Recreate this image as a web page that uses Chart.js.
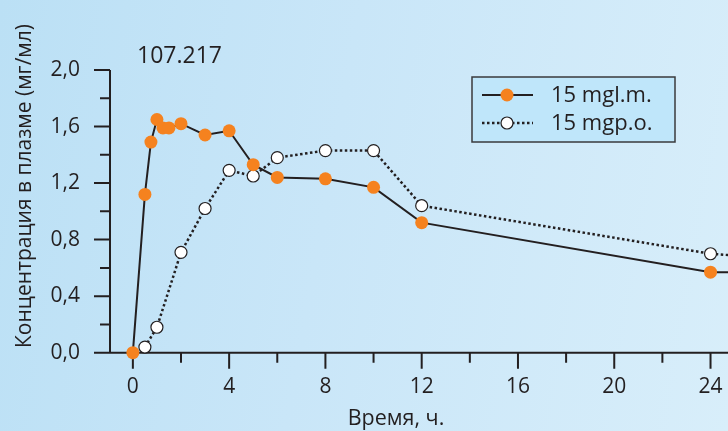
<!DOCTYPE html>
<html>
<head>
<meta charset="utf-8">
<script src="https://cdn.jsdelivr.net/npm/chart.js@4.4.1/dist/chart.umd.min.js"></script>
<style>
  html, body {
    margin: 0;
    padding: 0;
    width: 728px;
    height: 431px;
    overflow: hidden;
    background: linear-gradient(100deg, #bbe0f5 0%, #c9e6f8 45%, #d8eefa 100%);
  }
  #wrap {
    position: relative;
    width: 814px;
    height: 431px;
  }
</style>
</head>
<body>
<div id="wrap"><canvas id="pkChart"></canvas></div>
<script>
  // time points (h) and plasma concentration (mg/ml)
  const timeIm = [0, 0.5, 0.75, 1, 1.25, 1.5, 2, 3, 4, 5, 6, 8, 10, 12, 24, 28];
  const concIm = [0, 1.12, 1.49, 1.65, 1.59, 1.59, 1.62, 1.54, 1.57, 1.33, 1.24, 1.23, 1.17, 0.92, 0.57, 0.57];
  const timePo = [0.5, 1, 2, 3, 4, 5, 6, 8, 10, 12, 24, 28];
  const concPo = [0.04, 0.18, 0.71, 1.02, 1.29, 1.25, 1.38, 1.43, 1.43, 1.04, 0.70, 0.65];

  const seriesLabels = ['15 mgl.m.', '15 mgp.o.'];
  const xTicks = [0, 2, 4, 6, 8, 10, 12, 14, 16, 18, 20, 22, 24, 26, 28];
  const yTicks = [0, 0.2, 0.4, 0.6, 0.8, 1.0, 1.2, 1.4, 1.6, 1.8, 2.0];
  const chartNote = '107.217';
  const xTitle = 'Время, ч.';
  const yTitle = 'Концентрация в плазме (мг/мл)';

  const ink = '#231f20';
  const orange = '#f5821f';
  const fontFamily = '"Open Sans", "Noto Sans", sans-serif';
  const yAxisAt = -0.95;

  const isMajorY = v => Math.abs(v / 0.4 - Math.round(v / 0.4)) < 1e-6;
  const isMajorX = v => v % 4 === 0;

  // axis lines and tick marks, placed with the chart's scales
  const axesPlugin = {
    id: 'axesPlugin',
    beforeDatasetsDraw(chart) {
      const { ctx, scales: { x, y } } = chart;
      const x0 = x.getPixelForValue(yAxisAt);
      const y0 = y.getPixelForValue(0);
      ctx.save();
      ctx.strokeStyle = ink;
      ctx.lineWidth = 2;
      ctx.beginPath();
      ctx.moveTo(x0 - 16, y0);
      ctx.lineTo(chart.width, y0);
      ctx.moveTo(x0, y0);
      ctx.lineTo(x0, y.getPixelForValue(2));
      y.ticks.forEach(t => {
        const py = y.getPixelForValue(t.value);
        const len = isMajorY(t.value) ? 16 : 10;
        ctx.moveTo(x0 - len, py);
        ctx.lineTo(x0, py);
      });
      x.ticks.forEach(t => {
        const px = x.getPixelForValue(t.value);
        const len = isMajorX(t.value) ? 16 : 10;
        ctx.moveTo(px, y0);
        ctx.lineTo(px, y0 + len);
      });
      ctx.stroke();
      ctx.restore();
    }
  };

  // titles, note and the boxed legend
  const textPlugin = {
    id: 'textPlugin',
    afterDraw(chart) {
      const { ctx } = chart;
      ctx.save();
      ctx.fillStyle = ink;
      ctx.textBaseline = 'alphabetic';

      ctx.font = '23px ' + fontFamily;
      ctx.textAlign = 'left';
      ctx.fillText(chartNote, 137, 63);

      ctx.font = '21.5px ' + fontFamily;
      ctx.textAlign = 'center';
      ctx.fillText(xTitle, 396, 425);

      ctx.font = '21px ' + fontFamily;
      ctx.save();
      ctx.translate(31, 186);
      ctx.rotate(-Math.PI / 2);
      ctx.fillText(yTitle, 0, 0);
      ctx.restore();

      // legend box
      ctx.fillStyle = '#bfe6fa';
      ctx.fillRect(472, 77, 203, 65);
      ctx.strokeStyle = '#3a3a3c';
      ctx.lineWidth = 1.5;
      ctx.strokeRect(472, 77, 203, 65);

      const rows = [95, 123];
      ctx.strokeStyle = ink;
      ctx.lineWidth = 2;
      ctx.beginPath();
      ctx.moveTo(482, rows[0]);
      ctx.lineTo(533, rows[0]);
      ctx.stroke();
      ctx.setLineDash([2.5, 2.5]);
      ctx.lineWidth = 2.5;
      ctx.beginPath();
      ctx.moveTo(482, rows[1]);
      ctx.lineTo(533, rows[1]);
      ctx.stroke();
      ctx.setLineDash([]);

      ctx.fillStyle = orange;
      ctx.beginPath();
      ctx.arc(507, rows[0], 6.5, 0, Math.PI * 2);
      ctx.fill();
      ctx.fillStyle = '#ffffff';
      ctx.lineWidth = 1.2;
      ctx.beginPath();
      ctx.arc(507, rows[1], 6, 0, Math.PI * 2);
      ctx.fill();
      ctx.stroke();

      ctx.fillStyle = ink;
      ctx.font = '22px ' + fontFamily;
      ctx.textAlign = 'left';
      ctx.textBaseline = 'middle';
      ctx.fillText(seriesLabels[0], 551, rows[0] + 1);
      ctx.fillText(seriesLabels[1], 551, rows[1] + 1);
      ctx.restore();
    }
  };

  const ctx = document.getElementById('pkChart');

  new Chart(ctx, {
    type: 'line',
    data: {
      datasets: [{
        label: seriesLabels[0],
        data: timeIm.map((t, i) => ({ x: t, y: concIm[i] })),
        borderColor: ink,
        borderWidth: 2,
        pointRadius: 6.5,
        pointBackgroundColor: orange,
        pointBorderColor: orange,
        pointBorderWidth: 0,
        tension: 0,
        clip: false,
        order: 0
      }, {
        label: seriesLabels[1],
        data: timePo.map((t, i) => ({ x: t, y: concPo[i] })),
        borderColor: ink,
        borderWidth: 2.5,
        borderDash: [2.5, 2.5],
        pointRadius: 6,
        pointBackgroundColor: '#ffffff',
        pointBorderColor: ink,
        pointBorderWidth: 1.2,
        tension: 0,
        clip: false,
        order: 1
      }]
    },
    options: {
      responsive: true,
      maintainAspectRatio: false,
      animation: false,
      events: [],
      layout: {
        padding: { left: 0, right: 0, top: 70, bottom: 0 }
      },
      plugins: {
        legend: { display: false },
        tooltip: { enabled: false }
      },
      scales: {
        x: {
          type: 'linear',
          min: yAxisAt,
          max: 28,
          afterFit: s => {
            s.height = 78.3;
            s.paddingLeft = 0;
            s.paddingRight = 0;
          },
          afterBuildTicks: s => { s.ticks = xTicks.map(v => ({ value: v })); },
          border: { display: false },
          grid: { display: false, drawTicks: false },
          ticks: {
            padding: 22,
            color: ink,
            font: { size: 21, family: fontFamily },
            maxRotation: 0,
            autoSkip: false,
            callback: v => (isMajorX(v) && v <= 24 ? String(v) : '')
          }
        },
        y: {
          min: 0,
          max: 2,
          afterFit: s => {
            s.width = 110;
            s.paddingTop = 0;
            s.paddingBottom = 0;
          },
          afterBuildTicks: s => { s.ticks = yTicks.map(v => ({ value: v })); },
          border: { display: false },
          grid: { display: false, drawTicks: false },
          ticks: {
            padding: 30,
            color: ink,
            font: { size: 21, family: fontFamily },
            autoSkip: false,
            callback: v => (isMajorY(v) ? v.toFixed(1).replace('.', ',') : '')
          }
        }
      }
    },
    plugins: [axesPlugin, textPlugin]
  });
</script>
</body>
</html>
